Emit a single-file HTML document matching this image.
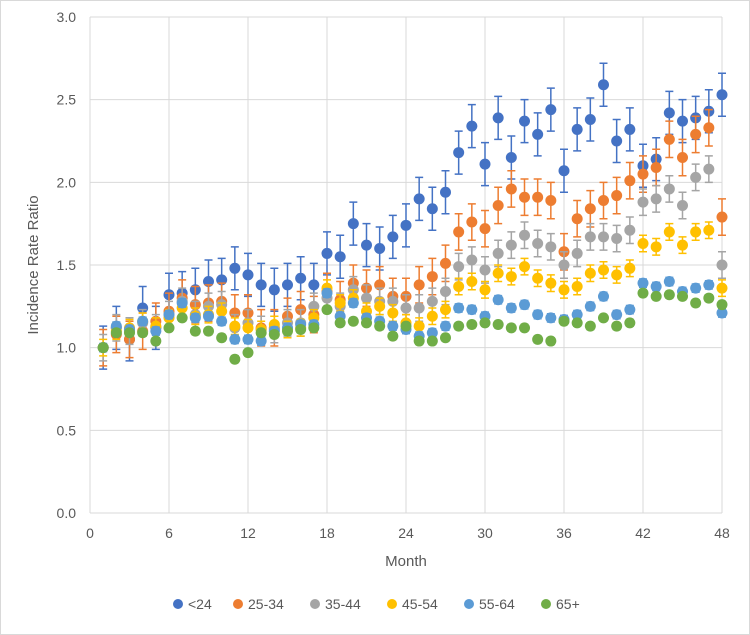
<!DOCTYPE html>
<html><head><meta charset="utf-8"><style>
html,body{margin:0;padding:0;background:#fff}
svg{display:block;font-family:"Liberation Sans",sans-serif}
</style></head><body>
<svg id="c" width="750" height="635" viewBox="0 0 750 635">
<rect x="0.5" y="0.5" width="749" height="634" fill="#fff" stroke="#d9d9d9"/>
<g id="grid"></g>
<g id="axes"></g>
<g id="marks"></g>
<text x="38" y="265" transform="rotate(-90 38 265)" text-anchor="middle" font-size="15" fill="#595959">Incidence Rate Ratio</text>
<text x="406" y="566" text-anchor="middle" font-size="15" fill="#595959">Month</text>
<g id="legend"></g>
</svg>
<script>
const months = Array.from({length:48},(_,i)=>i+1);
const yTicks = ["0.0","0.5","1.0","1.5","2.0","2.5","3.0"];
const xTicks = [0,6,12,18,24,30,36,42,48];
const seriesNames = ["<24","25-34","35-44","45-54","55-64","65+"];
const seriesColors = ["#4472c4","#ed7d31","#a5a5a5","#ffc000","#5b9bd5","#70ad47"];
const under24 = [1.0,1.12,1.05,1.24,1.12,1.32,1.33,1.35,1.40,1.41,1.48,1.44,1.38,1.35,1.38,1.42,1.38,1.57,1.55,1.75,1.62,1.60,1.67,1.74,1.90,1.84,1.94,2.18,2.34,2.11,2.39,2.15,2.37,2.29,2.44,2.07,2.32,2.38,2.59,2.25,2.32,2.10,2.14,2.42,2.37,2.39,2.43,2.53];
const age25to34 = [1.0,1.08,1.05,1.10,1.16,1.22,1.30,1.26,1.27,1.28,1.21,1.21,1.12,1.12,1.19,1.23,1.20,1.34,1.29,1.39,1.36,1.38,1.31,1.31,1.38,1.43,1.51,1.70,1.76,1.72,1.86,1.96,1.91,1.91,1.89,1.58,1.78,1.84,1.89,1.92,2.01,2.05,2.09,2.26,2.15,2.29,2.33,1.79];
const age35to44 = [1.0,1.12,1.10,1.15,1.12,1.20,1.28,1.20,1.25,1.26,1.12,1.15,1.11,1.11,1.15,1.15,1.25,1.30,1.25,1.35,1.30,1.28,1.28,1.24,1.24,1.28,1.34,1.49,1.53,1.47,1.57,1.62,1.68,1.63,1.61,1.50,1.57,1.67,1.67,1.66,1.71,1.88,1.90,1.96,1.86,2.03,2.08,1.50];
const age45to54 = [1.0,1.10,1.12,1.16,1.13,1.18,1.24,1.19,1.20,1.22,1.13,1.12,1.11,1.14,1.11,1.12,1.18,1.36,1.27,1.30,1.22,1.25,1.21,1.15,1.13,1.19,1.23,1.37,1.40,1.35,1.45,1.43,1.49,1.42,1.39,1.35,1.37,1.45,1.47,1.44,1.48,1.63,1.61,1.70,1.62,1.70,1.71,1.36];
const age55to64 = [1.0,1.13,1.11,1.16,1.10,1.20,1.27,1.18,1.19,1.16,1.05,1.05,1.04,1.10,1.12,1.14,1.14,1.33,1.19,1.27,1.18,1.16,1.13,1.11,1.07,1.09,1.13,1.24,1.23,1.19,1.29,1.24,1.26,1.20,1.18,1.17,1.20,1.25,1.31,1.20,1.23,1.39,1.37,1.40,1.34,1.36,1.38,1.21];
const age65plus = [1.0,1.09,1.09,1.09,1.04,1.12,1.18,1.10,1.10,1.06,0.93,0.97,1.09,1.08,1.10,1.11,1.12,1.23,1.15,1.16,1.15,1.13,1.07,1.13,1.04,1.04,1.06,1.13,1.14,1.15,1.14,1.12,1.12,1.05,1.04,1.16,1.15,1.13,1.18,1.13,1.15,1.33,1.31,1.32,1.31,1.27,1.30,1.26];
const errorHalfWidths = [0.13,0.11,0.08,0.05,0.025,0.02];
const seriesValues = [under24,age25to34,age35to44,age45to54,age55to64,age65plus];

const X0=90,X1=722,Y0=513,Y1=17;
const xs = m => X0 + (m/48)*(X1-X0);
const ys = v => Y0 - (v/3)*(Y0-Y1);
const NS="http://www.w3.org/2000/svg";
function mk(tag,attrs,parent){const e=document.createElementNS(NS,tag);for(const k in attrs)e.setAttribute(k,attrs[k]);parent.appendChild(e);return e;}
const grid=document.getElementById('grid'),axes=document.getElementById('axes'),marks=document.getElementById('marks'),legend=document.getElementById('legend');

yTicks.forEach(t=>{
  const y=ys(parseFloat(t));
  const l=mk('line',{x1:X0,x2:X1,y1:y,y2:y,stroke:'#d9d9d9','stroke-width':1},grid);
  
  
  const tx=mk('text',{x:X0-14,y:y+5,'text-anchor':'end','font-size':14,fill:'#595959'},axes);
  tx.textContent=t;
  
  
});
xTicks.forEach(t=>{
  const x=xs(t);
  const l=mk('line',{x1:x,x2:x,y1:Y1,y2:Y0,stroke:'#d9d9d9','stroke-width':1},grid);
  
  
  const tx=mk('text',{x:x,y:Y0+25,'text-anchor':'middle','font-size':14,fill:'#595959'},axes);
  tx.textContent=t;
  
  
});

seriesValues.forEach((vals,si)=>{
  const g=mk('g',{},marks);
  
  
  const col=seriesColors[si],e=errorHalfWidths[si];
  vals.forEach((v,i)=>{
    const x=xs(months[i]),yt=ys(v+e),yb=ys(v-e);
    const eb=mk('path',{d:`M${x},${yt}V${yb}M${x-4},${yt}H${x+4}M${x-4},${yb}H${x+4}`,stroke:col,'stroke-width':1.5,fill:'none'},g);
    
    
  });
  vals.forEach((v,i)=>{
    const c=mk('circle',{cx:xs(months[i]),cy:ys(v),r:5.5,fill:col},g);
    
    
  });
});

const legX=[172,232,309,386,463,540];
seriesNames.forEach((n,i)=>{
  const g=mk('g',{},legend);
  
  
  mk('circle',{cx:legX[i]+6,cy:604,r:5,fill:seriesColors[i]},g);
  const t=mk('text',{x:legX[i]+16,y:609,'font-size':14,fill:'#595959'},g);
  t.textContent=n;
});
</script>
</body></html>
